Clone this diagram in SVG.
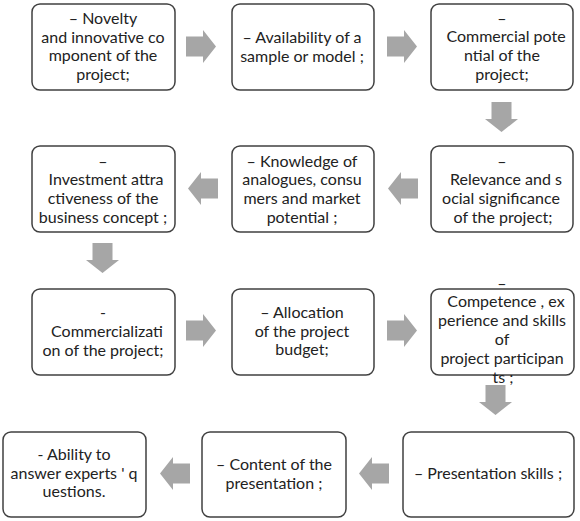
<svg xmlns="http://www.w3.org/2000/svg" xmlns:xlink="http://www.w3.org/1999/xlink" width="580" height="521" viewBox="0 0 580 521">
<style>
.box{fill:#ffffff;stroke:#404040;stroke-width:1.5}
.t{font-family:Lato,"Open Sans","Liberation Sans",sans-serif;font-size:16px;fill:#222222;text-anchor:middle}
.arr{fill:#a6a6a6}
</style>
<defs>
<path id="ar" class="arr" d="M0,6.5 H17 V0 L30,16.5 L17,33 V26.5 H0 Z"/>
</defs>
<rect width="580" height="521" fill="#ffffff"/>
<g id="connectors">
<use xlink:href="#ar" transform="translate(186,30)"/>
<use xlink:href="#ar" transform="translate(387,30)"/>
<use xlink:href="#ar" transform="translate(518,102) rotate(90)"/>
<use xlink:href="#ar" transform="translate(418,205) rotate(180)"/>
<use xlink:href="#ar" transform="translate(218,205) rotate(180)"/>
<use xlink:href="#ar" transform="translate(119,243) rotate(90)"/>
<use xlink:href="#ar" transform="translate(186,314)"/>
<use xlink:href="#ar" transform="translate(387,314)"/>
<use xlink:href="#ar" transform="translate(512,385) rotate(90)"/>
<use xlink:href="#ar" transform="translate(389,490) rotate(180)"/>
<use xlink:href="#ar" transform="translate(190,490) rotate(180)"/>
</g>
<g id="n1">
<rect class="box" x="32" y="4" width="143" height="86" rx="8"/>
<text class="t"><tspan x="103" y="24">– Novelty</tspan><tspan x="103" y="43">and innovative co</tspan><tspan x="103" y="61">mponent of the</tspan><tspan x="103" y="80">project;</tspan></text>
</g>
<g id="n2">
<rect class="box" x="232" y="4" width="142" height="86" rx="8"/>
<text class="t"><tspan x="302" y="43">– Availability of a</tspan><tspan x="302" y="62">sample or model ;</tspan></text>
</g>
<g id="n3">
<rect class="box" x="431" y="4" width="142" height="86" rx="8"/>
<text class="t"><tspan x="502" y="24">–</tspan><tspan x="506" y="42">Commercial pote</tspan><tspan x="502" y="61">ntial of the</tspan><tspan x="502" y="80">project;</tspan></text>
</g>
<g id="n4">
<rect class="box" x="431" y="146" width="142" height="86" rx="8"/>
<text class="t"><tspan x="502" y="167">–</tspan><tspan x="506" y="185">Relevance and s</tspan><tspan x="501" y="204">ocial significance</tspan><tspan x="503" y="223">of the project;</tspan></text>
</g>
<g id="n5">
<rect class="box" x="232" y="146" width="142" height="86" rx="8"/>
<text class="t"><tspan x="302" y="167">– Knowledge of</tspan><tspan x="302" y="185">analogues, consu</tspan><tspan x="302" y="204">mers and market</tspan><tspan x="302" y="223">potential ;</tspan></text>
</g>
<g id="n6">
<rect class="box" x="32" y="146" width="143" height="86" rx="8"/>
<text class="t"><tspan x="103" y="167">–</tspan><tspan x="106" y="185">Investment attra</tspan><tspan x="103" y="204">ctiveness of the</tspan><tspan x="103" y="223">business concept ;</tspan></text>
</g>
<g id="n7">
<rect class="box" x="32" y="289" width="143" height="86" rx="8"/>
<text class="t"><tspan x="103" y="318">-</tspan><tspan x="107" y="337">Commercializati</tspan><tspan x="103" y="356">on of the project;</tspan></text>
</g>
<g id="n8">
<rect class="box" x="232" y="289" width="142" height="86" rx="8"/>
<text class="t"><tspan x="302" y="318">– Allocation</tspan><tspan x="302" y="337">of the project</tspan><tspan x="302" y="355">budget;</tspan></text>
</g>
<g id="n9">
<rect class="box" x="431" y="289" width="143" height="86" rx="8"/>
<text class="t"><tspan x="502" y="289">–</tspan><tspan x="506" y="307">Competence , ex</tspan><tspan x="502" y="326">perience and skills</tspan><tspan x="502" y="345">of</tspan><tspan x="502" y="364">project participan</tspan><tspan x="503" y="383">ts ;</tspan></text>
</g>
<g id="n10">
<rect class="box" x="403" y="432" width="171" height="85" rx="8"/>
<text class="t"><tspan x="488" y="479">– Presentation skills ;</tspan></text>
</g>
<g id="n11">
<rect class="box" x="202" y="432" width="144" height="85" rx="8"/>
<text class="t"><tspan x="274" y="470">– Content of the</tspan><tspan x="274" y="489">presentation ;</tspan></text>
</g>
<g id="n12">
<rect class="box" x="3" y="432" width="143" height="85" rx="8"/>
<text class="t"><tspan x="74" y="460">- Ability to</tspan><tspan x="74" y="479">answer experts ' q</tspan><tspan x="74" y="497">uestions.</tspan></text>
</g>
</svg>
